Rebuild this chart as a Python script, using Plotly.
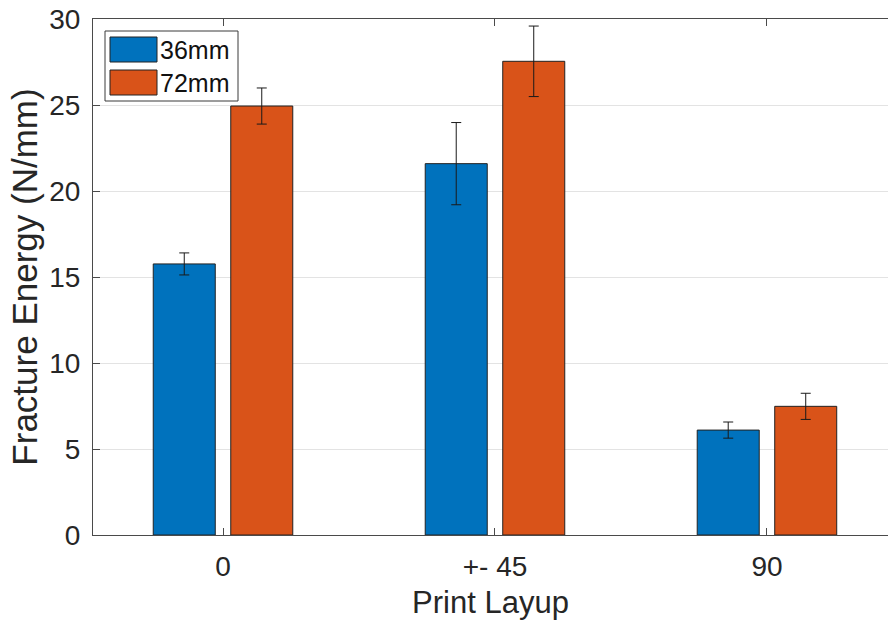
import plotly.graph_objects as go

# Data
layups = ["0", "+- 45", "90"]
positions = [1, 2, 3]
series_names = ["36mm", "72mm"]
energy_36 = [15.76, 21.59, 6.10]
err_36 = [0.64, 2.39, 0.47]
energy_72 = [24.94, 27.54, 7.48]
err_72 = [1.05, 2.05, 0.76]
colors = ["#0072BD", "#D95319"]

W, H = 888, 623
L, R, T, B = 93, 0, 19, 88
FONT = "Liberation Sans, Arial, sans-serif"
TXT = "#262626"
AX = "#4a4a4a"

fig = go.Figure()
for name, vals, errs, col in zip(series_names, [energy_36, energy_72],
                                 [err_36, err_72], colors):
    fig.add_trace(go.Bar(
        x=positions, y=vals, name=name,
        marker=dict(color=col, line=dict(color="#222222", width=1)),
        error_y=dict(type="data", array=errs, visible=True,
                     color="#1a1a1a", thickness=1, width=5),
        showlegend=False,
    ))

# plot-area pixel -> paper coordinate helpers
pw, ph = W - L - R, H - T - B
def px(x):
    return (x - L) / pw
def py(y):
    return (H - B - y) / ph

# legend box with wide swatches
shapes = [dict(type="rect", xref="paper", yref="paper",
               x0=px(105), x1=px(238), y0=py(101), y1=py(31),
               line=dict(color="#3a3a3a", width=1), fillcolor="white", layer="above")]
annotations = []
for i, (name, col) in enumerate(zip(series_names, colors)):
    top = 37 + i * 33
    shapes.append(dict(type="rect", xref="paper", yref="paper",
                       x0=px(110), x1=px(157), y0=py(top + 25), y1=py(top),
                       line=dict(color="#222222", width=1), fillcolor=col, layer="above"))
    annotations.append(dict(xref="paper", yref="paper", x=px(158), y=py(top + 12.5),
                            text=name, showarrow=False, xanchor="left", yanchor="middle",
                            font=dict(family=FONT, size=25, color="#111111")))

fig.update_layout(
    width=W, height=H,
    margin=dict(l=L, r=R, t=T, b=B, autoexpand=False),
    paper_bgcolor="white", plot_bgcolor="white",
    barmode="group", bargap=0.43, bargroupgap=0.2,
    font=dict(family=FONT, size=28, color=TXT),
    shapes=shapes, annotations=annotations,
    xaxis=dict(
        range=[0.522, 3.445], tickvals=positions, ticktext=layups,
        showgrid=False, zeroline=False,
        showline=True, linecolor=AX, linewidth=1, mirror="ticks",
        ticks="inside", ticklen=7, tickcolor=AX,
        ticklabelstandoff=6,
        tickfont=dict(family=FONT, size=28, color=TXT),
        title=dict(text="Print Layup", standoff=10,
                   font=dict(family=FONT, size=31, color=TXT)),
    ),
    yaxis=dict(
        range=[0, 30], tickvals=[0, 5, 10, 15, 20, 25, 30],
        showgrid=True, gridcolor="#e3e3e3", gridwidth=1, zeroline=False,
        showline=True, linecolor=AX, linewidth=1,
        ticks="inside", ticklen=7, tickcolor=AX,
        ticklabelstandoff=6,
        tickfont=dict(family=FONT, size=28, color=TXT),
        title=dict(text="Fracture Energy (N/mm)", standoff=0,
                   font=dict(family=FONT, size=35, color=TXT)),
    ),
)

fig.write_html("out.html")
